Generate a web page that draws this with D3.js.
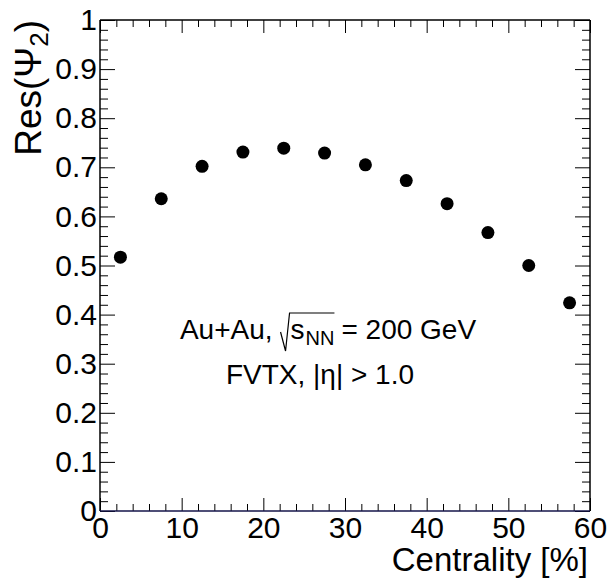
<!DOCTYPE html>
<html>
<head>
<meta charset="utf-8">
<script src="https://cdn.jsdelivr.net/npm/d3@7"></script>
<style>
  html, body { margin: 0; padding: 0; background: #fff; }
  svg { display: block; }
  text { font-family: "Liberation Sans", Arial, Helvetica, sans-serif; fill: #000; }
</style>
</head>
<body>
<svg id="chart" width="608" height="582"></svg>
<script>
// ---- data ----
const centrality = [2.5, 7.5, 12.5, 17.5, 22.5, 27.5, 32.5, 37.5, 42.5, 47.5, 52.5, 57.5];
const resPsi2 = [0.517, 0.636, 0.702, 0.731, 0.739, 0.729, 0.705, 0.673, 0.626, 0.567, 0.500, 0.424];
const xTickValues = [0, 10, 20, 30, 40, 50, 60];
const yTickValues = [0, 0.1, 0.2, 0.3, 0.4, 0.5, 0.6, 0.7, 0.8, 0.9, 1];
const xTitle = "Centrality [%]";
const annotationLine2 = "FVTX, |η| > 1.0";

// ---- layout ----
const L = 100, R = 590, T = 20, B = 511;
const svg = d3.select("#chart");
const x = d3.scaleLinear().domain([0, 60]).range([L, R]);
const y = d3.scaleLinear().domain([0, 1]).range([B, T]);

const xMinor = d3.range(0, 61, 2).filter(v => v % 10 !== 0);
const yMinor = d3.range(0, 51, 1).map(v => v / 50).filter((v, i) => i % 5 !== 0);

const tickFont = 30;
function styleAxis(g) {
  g.select(".domain").remove();
  g.selectAll(".tick line").attr("stroke", "#000").attr("stroke-width", 1);
  g.selectAll("text").style("font-size", tickFont + "px").attr("fill", "#000")
    .style("font-family", '"Liberation Sans", Arial, Helvetica, sans-serif');
}
const yFmt = d => d === 0 ? "0" : d === 1 ? "1" : d3.format(".1f")(d);

// bottom axis (major + labels)
svg.append("g").attr("transform", `translate(0,${B})`)
  .call(d3.axisBottom(x).tickValues(xTickValues).tickSize(-13).tickPadding(6).tickFormat(d3.format("d")))
  .call(styleAxis);
svg.append("g").attr("transform", `translate(0,${B})`)
  .call(d3.axisBottom(x).tickValues(xMinor).tickSize(-7).tickFormat(""))
  .call(styleAxis);
// top axis
svg.append("g").attr("transform", `translate(0,${T})`)
  .call(d3.axisTop(x).tickValues(xTickValues).tickSize(-13).tickFormat(""))
  .call(styleAxis);
svg.append("g").attr("transform", `translate(0,${T})`)
  .call(d3.axisTop(x).tickValues(xMinor).tickSize(-7).tickFormat(""))
  .call(styleAxis);
// left axis
svg.append("g").attr("transform", `translate(${L},0)`)
  .call(d3.axisLeft(y).tickValues(yTickValues).tickSize(-15).tickPadding(3).tickFormat(yFmt))
  .call(styleAxis);
svg.append("g").attr("transform", `translate(${L},0)`)
  .call(d3.axisLeft(y).tickValues(yMinor).tickSize(-8).tickFormat(""))
  .call(styleAxis);
// right axis
svg.append("g").attr("transform", `translate(${R},0)`)
  .call(d3.axisRight(y).tickValues(yTickValues).tickSize(-15).tickFormat(""))
  .call(styleAxis);
svg.append("g").attr("transform", `translate(${R},0)`)
  .call(d3.axisRight(y).tickValues(yMinor).tickSize(-8).tickFormat(""))
  .call(styleAxis);

// frame
svg.append("line").attr("x1", L).attr("x2", R).attr("y1", T).attr("y2", T).attr("stroke", "#000").attr("stroke-width", 1.5);
svg.append("line").attr("x1", L).attr("x2", L).attr("y1", T).attr("y2", B).attr("stroke", "#000").attr("stroke-width", 1.5);
svg.append("line").attr("x1", R).attr("x2", R).attr("y1", T).attr("y2", B).attr("stroke", "#000").attr("stroke-width", 1.5);
svg.append("line").attr("x1", L).attr("x2", R).attr("y1", B).attr("y2", B).attr("stroke", "#14144a").attr("stroke-width", 1.5);

// data points
svg.append("g").selectAll("circle")
  .data(centrality.map((c, i) => [c, resPsi2[i]]))
  .join("circle")
  .attr("cx", d => x(d[0]))
  .attr("cy", d => y(d[1]))
  .attr("r", 6.5)
  .attr("fill", "#000");

// axis titles
svg.append("text")
  .attr("x", R - 2).attr("y", 571)
  .attr("text-anchor", "end")
  .style("font-size", "33px")
  .text(xTitle);

const yt = svg.append("text")
  .attr("transform", `translate(41,${T}) rotate(-90)`)
  .attr("text-anchor", "end")
  .style("font-size", "37px");
yt.append("tspan").text("Res(Ψ");
yt.append("tspan").attr("dy", 7).style("font-size", "26px").text("2");
yt.append("tspan").attr("dy", -7).text(")");

// annotation line 1 with radical
const aFont = 28, aBase = 339, aCenter = 328;
const g1 = svg.append("g");
let cx = 0;
const p1 = g1.append("text").attr("x", cx).attr("y", aBase).style("font-size", aFont + "px").text("Au+Au,");
cx += p1.node().getComputedTextLength() + 8;
const radStart = cx;
cx += 10;
const sT = g1.append("text").attr("x", cx).attr("y", aBase).style("font-size", aFont + "px").text("s");
cx += sT.node().getComputedTextLength() + 1;
const nnT = g1.append("text").attr("x", cx).attr("y", aBase + 6).style("font-size", "20px").text("NN");
cx += nnT.node().getComputedTextLength();
const radEnd = cx;
cx += 7;
const p4 = g1.append("text").attr("x", cx).attr("y", aBase).style("font-size", aFont + "px").text("= 200 GeV");
cx += p4.node().getComputedTextLength();
g1.append("path")
  .attr("d", `M${radStart},${aBase - 7} L${radStart + 5},${aBase + 12} L${radStart + 9},${aBase - 26} L${radEnd},${aBase - 26}`)
  .attr("fill", "none").attr("stroke", "#000").attr("stroke-width", 1.2);
g1.attr("transform", `translate(${aCenter - cx / 2},0)`);

svg.append("text")
  .attr("x", 320).attr("y", 384)
  .attr("text-anchor", "middle")
  .style("font-size", aFont + "px")
  .text(annotationLine2);
</script>
</body>
</html>
